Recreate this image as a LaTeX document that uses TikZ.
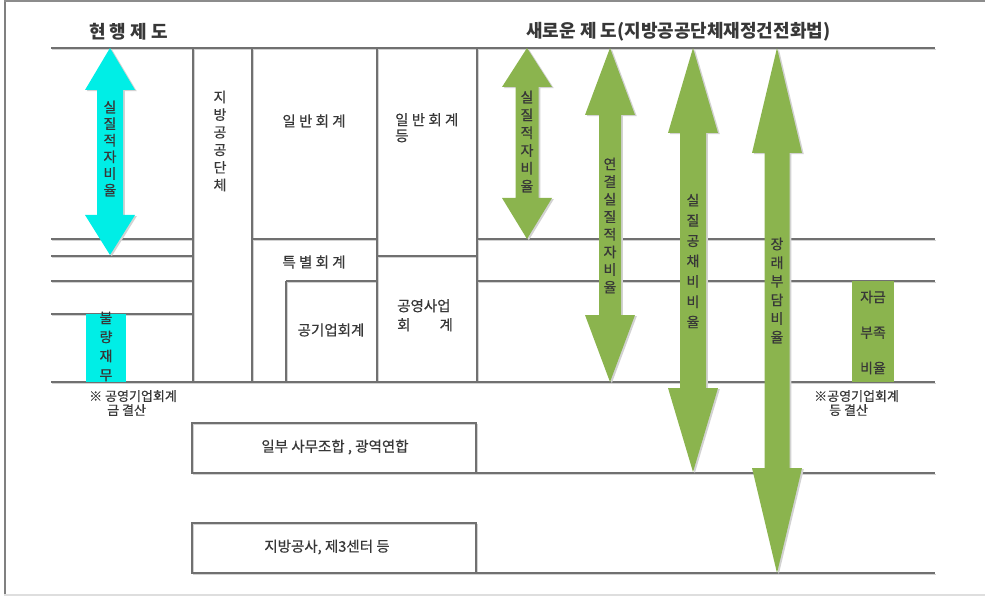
\documentclass[tikz,border=0pt]{standalone}
\usepackage{fontspec}
\setmainfont{Noto Sans CJK KR}
\newfontfamily\krm[FakeBold=0.5]{Noto Sans CJK KR}
\definecolor{cyanA}{RGB}{0,238,230}
\definecolor{greenA}{RGB}{139,180,78}
\definecolor{lineA}{RGB}{112,112,112}
\definecolor{lineS}{RGB}{210,210,210}
\definecolor{txtA}{RGB}{55,55,55}
\newcommand\myarrow[8]{%
  \fill[lineS,xshift=1.8pt,yshift=-1.2pt] (#1,#2) -- (#1+#4,#3) -- (#1+#5,#3) -- (#1+#5,#6) -- (#1+#4,#6) -- (#1,#7) -- (#1-#4,#6) -- (#1-#5,#6) -- (#1-#5,#3) -- (#1-#4,#3) -- cycle;
  \fill[#8] (#1,#2) -- (#1+#4,#3) -- (#1+#5,#3) -- (#1+#5,#6) -- (#1+#4,#6) -- (#1,#7) -- (#1-#4,#6) -- (#1-#5,#6) -- (#1-#5,#3) -- (#1-#4,#3) -- cycle;}
\newcommand\mygrid{%
  \draw (51,48) -- (935,48);
  \draw (51,239) -- (193,239); \draw (251,239) -- (377,239); \draw (477,239) -- (935,239);
  \draw (51,256) -- (193,256); \draw (377,256) -- (477,256);
  \draw (51,281) -- (193,281); \draw (286,281) -- (377,281); \draw (477,281) -- (935,281);
  \draw (51,314) -- (193,314);
  \draw (51,382) -- (935,382);
  \draw (193,48) -- (193,382); \draw (252,48) -- (252,382);
  \draw (377,48) -- (377,382); \draw (477,48) -- (477,382);
  \draw (286,281) -- (286,382);
  \draw (192,423) rectangle (476,473); \draw (476,473) -- (935,473);
  \draw (192,523) rectangle (476,573); \draw (476,573) -- (935,573);}
\tikzset{
  txt/.style={text=txtA, inner sep=0pt, font=\krm\fontsize{14.5}{16}\selectfont},
  vtxt/.style={text=txtA, inner sep=0pt, align=center, font=\krm\fontsize{14}{#1}\selectfont},
  vtxt/.default=18,
  ttl/.style={text=txtA, inner sep=0pt, font=\bfseries\fontsize{18}{20}\selectfont},
}
\begin{document}
\begin{tikzpicture}[x=1pt,y=-1pt]
\useasboundingbox (0,0) rectangle (985,596);
% frame
\draw[line width=2pt, color=black!50] (4.5,0) -- (4.5,596);
\draw[line width=2pt, color=black!45] (4,1) -- (985,1);
\draw[line width=1.5pt, color=black!13] (4,595) -- (985,595);
% grid (shadow, then lines)
\begin{scope}[lineS, line width=1.2pt, xshift=1.2pt, yshift=-1.2pt]
\mygrid
\end{scope}
\begin{scope}[lineA, line width=1.2pt]
\mygrid
\end{scope}
% filled boxes
\fill[cyanA] (86,314) rectangle (126,382);
\fill[greenA] (852,281) rectangle (894,382);
% arrows
\myarrow{110}{48}{90}{25}{13}{215}{255}{cyanA}
\myarrow{527}{48}{87}{25}{11.5}{198}{239}{greenA}
\myarrow{610}{48}{115}{25}{11}{315}{382}{greenA}
\myarrow{693}{48}{133}{25}{13}{388}{472}{greenA}
\myarrow{777}{48}{153}{25}{12.5}{468}{573}{greenA}
% titles
\node[ttl, anchor=west] (t1) at (89,32) {현 행 제 도};
\node[ttl, anchor=west] (t2) at (526,32) {새로운 제 도(지방공공단체재정건전화법)};
% vertical labels
\node[vtxt=16.6] (a0) at (110,148.5) {실\\질\\적\\자\\비\\율};
\node[vtxt=19] (bad) at (106,346.5) {불\\량\\재\\무};
\node[vtxt=17.6] (lg) at (220,141) {지\\방\\공\\공\\단\\체};
\node[vtxt=17.8] (a1) at (527,141.5) {실\\질\\적\\자\\비\\율};
\node[vtxt=17.6] (a2) at (610,225.5) {연\\결\\실\\질\\적\\자\\비\\율};
\node[vtxt=20.3] (a3) at (693,261) {실\\질\\공\\채\\비\\비\\율};
\node[vtxt=18.6] (a4) at (777,290.5) {장\\래\\부\\담\\비\\율};
\node[vtxt=35.5] (fund) at (873,332.5) {자금\\부족\\비율};
% horizontal labels
\node[txt] (gen) at (314,121) {일 반 회 계};
\node[txt, align=left, anchor=north west] (gen2) at (395,113) {일 반 회 계\\등};
\node[txt] (spec) at (314,262) {특 별 회 계};
\node[txt] (pub) at (331,330) {공기업회계};
\node[txt, align=left, anchor=north west, font=\krm\fontsize{14.5}{19}\selectfont] (pubbiz) at (397,299) {공영사업\\회\hspace{2em}계};
\node[txt, align=left, anchor=north west, font=\krm\fontsize{13}{14}\selectfont] (noteL) at (89,390) {※ 공영기업회계\\\hspace{18pt}금 결산};
\node[txt, align=left, anchor=north west, font=\krm\fontsize{13}{14}\selectfont] (noteR) at (814,390) {※공영기업회계\\\hspace{15pt}등 결산};
\node[txt] (part) at (335,447) {일부 사무조합 , 광역연합};
\node[txt] (corp) at (327,547) {지방공사, 제3센터 등};
\end{tikzpicture}
\end{document}
